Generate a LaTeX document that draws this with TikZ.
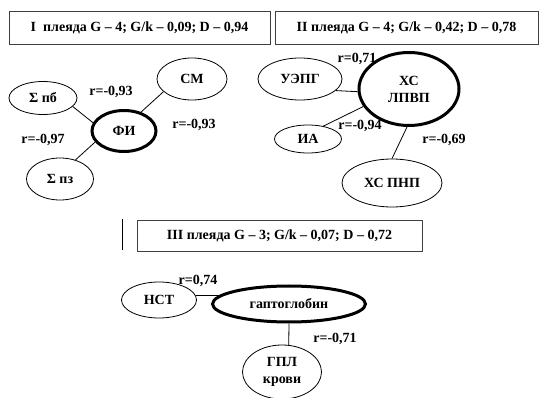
\documentclass[tikz,border=0pt]{standalone}
\usepackage{fontspec}
\setmainfont{Liberation Serif}
\usetikzlibrary{shapes.geometric}
\tikzset{
  vert/.style={ellipse,draw,line width=0.8pt,inner sep=0pt,align=center},
  core/.style={vert,line width=3pt},
  head/.style={draw=black!75,line width=0.8pt,inner sep=0pt,minimum height=33pt},
  rval/.style={inner sep=0pt}
}
\begin{document}
\begin{tikzpicture}[x=1pt,y=-1pt,font=\fontsize{14}{17}\selectfont\bfseries]
\useasboundingbox (0,0) rectangle (539,398);
\node[head,minimum width=261pt] (h1) at (139.5,27.5) {I\ \ плеяда G -- 4; G/k -- 0,09; D -- 0,94};
\node[head,minimum width=263pt] (h2) at (406.5,27.5) {II плеяда G -- 4; G/k -- 0,42; D -- 0,78};
\node[head,minimum width=285pt,minimum height=31pt] (h3) at (279.5,235.5) {III плеяда G -- 3; G/k -- 0,07; D -- 0,72};
\draw[line width=0.8pt] (122,219) -- (122,250);
\node[vert,minimum width=68pt,minimum height=33pt] (pb) at (43,98) {Σ пб};
\node[vert,minimum width=70pt,minimum height=42pt] (sm) at (192,79) {СМ};
\node[core,minimum width=64pt,minimum height=41pt] (fi) at (124,131) {ФИ};
\node[vert,minimum width=67pt,minimum height=42pt] (pz) at (60,179) {Σ пз};
\draw[line width=0.8pt] (pb.-16) -- (fi.165);
\draw[line width=0.8pt] (sm.-156) -- (fi.48);
\draw[line width=0.8pt] (fi.-159) -- (pz.51);
\node[rval] (r1) at (111,92) {r=-0,93};
\node[rval] (r2) at (194,125) {r=-0,93};
\node[rval] (r3) at (43,140) {r=-0,97};
\node[vert,minimum width=84pt,minimum height=42pt] (uepg) at (300,79) {УЭПГ};
\node[core,minimum width=100pt,minimum height=73pt] (hdl) at (409,89) {ХС\\ЛПВП};
\node[vert,minimum width=67pt,minimum height=28pt] (ia) at (308,139) {ИА};
\node[vert,minimum width=100pt,minimum height=48pt] (ldl) at (392,183) {ХС ПНП};
\draw[line width=0.8pt] (uepg.-18) -- (hdl.183);
\draw[line width=0.8pt] (ia.40) -- (hdl.201);
\draw[line width=0.8pt] (hdl.267) -- (ldl.90);
\node[rval] (r4) at (357,59) {r=0,71};
\node[rval] (r5) at (360,126) {r=-0,94};
\node[rval] (r6) at (444,140) {r=-0,69};
\node[vert,minimum width=75pt,minimum height=36pt] (nst) at (159,300) {НСТ};
\node[core,minimum width=153pt,minimum height=36pt] (hpt) at (289,304) {гаптоглобин};
\node[vert,minimum width=79pt,minimum height=54pt] (gpl) at (282,372) {ГПЛ\\крови};
\draw[line width=0.8pt] (nst.7) -- (hpt.173);
\draw[line width=0.8pt] (hpt.south) -- (gpl.76);
\node[rval] (r7) at (198,281) {r=0,74};
\node[rval] (r8) at (335,339) {r=-0,71};
\end{tikzpicture}
\end{document}
